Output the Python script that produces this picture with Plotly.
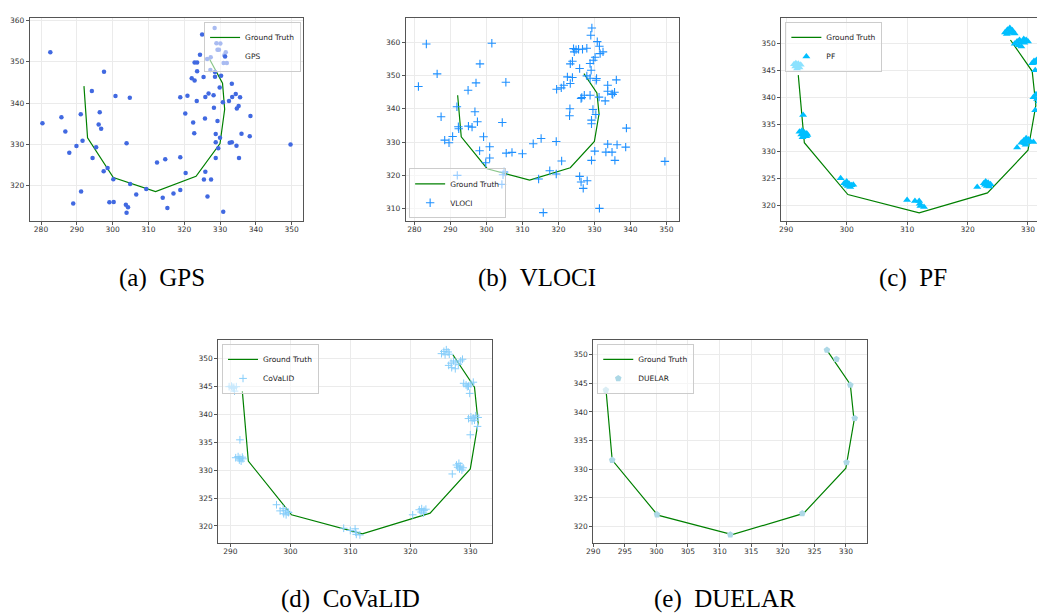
import plotly.graph_objects as go

# ---------------- data ----------------
gt_x = [292.0, 293.0, 300.2, 312.0, 323.3, 330.0, 331.3, 330.7, 327.1]
gt_y = [344.1, 331.6, 322.0, 318.6, 322.3, 330.2, 338.5, 344.8, 350.6]

gps_x = [282.6, 297.6, 280.4, 285.7, 286.8, 287.9, 289.0, 291.2, 289.9, 291.1, 291.6, 294.2, 296.4,
         296.1, 296.8, 294.4, 295.4, 297.5, 298.6, 299.1, 300.3, 300.2, 300.8, 304.8, 303.9, 304.9,
         303.7, 304.3, 303.9, 306.6, 309.4, 312.4, 314.7, 314.0, 315.3, 317.0, 318.9, 318.9, 320.4,
         318.9, 320.9, 320.3, 322.5, 322.8, 323.5, 322.1, 322.9, 322.9, 323.6, 323.6, 324.4, 325.0,
         325.4, 325.9, 326.8, 325.8, 325.9, 325.5, 327.5, 326.5, 326.4, 327.4, 327.3, 328.5, 329.0,
         330.1, 329.3, 329.7, 331.2, 331.6, 331.0, 331.9, 328.6, 328.6, 330.3, 329.9, 328.2, 330.8,
         332.5, 333.3, 333.4, 334.4, 335.6, 335.2, 334.7, 328.3, 329.3, 328.8, 330.0, 328.8, 329.5,
         328.8, 332.7, 333.3, 334.6, 335.3, 336.0, 338.5, 338.3, 330.9, 349.7]
gps_y = [352.3, 347.6, 335.1, 336.6, 333.1, 328.0, 315.7, 318.6, 329.6, 337.3, 330.9, 342.9, 337.8,
         334.8, 333.8, 326.7, 329.3, 323.5, 324.3, 316.0, 316.1, 321.6, 341.7, 341.3, 330.3, 320.4,
         315.4, 314.8, 313.5, 317.9, 319.2, 325.6, 326.4, 317.1, 314.6, 318.1, 326.9, 319.0, 323.1,
         341.4, 341.8, 337.5, 335.3, 332.7, 340.5, 346.0, 345.5, 349.8, 349.8, 347.7, 351.7, 356.6,
         346.3, 341.5, 342.3, 336.3, 323.4, 321.5, 321.5, 317.4, 350.7, 351.1, 348.0, 358.2, 354.5,
         354.4, 352.9, 352.9, 351.6, 352.3, 349.7, 349.7, 347.5, 346.4, 346.6, 343.8, 341.9, 340.2,
         340.5, 344.7, 341.5, 342.2, 341.4, 339.3, 338.7, 338.9, 335.7, 332.5, 331.6, 330.5, 329.1,
         326.7, 330.4, 330.5, 329.7, 326.7, 332.6, 336.9, 332.0, 313.7, 330.0]

vloci_x = [281.1, 283.3, 286.3, 287.4, 288.4, 289.6, 290.6, 291.8, 292.2, 292.3, 291.9, 294.9, 295.0,
           296.0, 296.8, 297.1, 297.5, 298.2, 298.1, 299.2, 299.8, 300.9, 300.9, 301.5, 304.4, 304.3,
           304.9, 304.6, 305.4, 305.5, 307.1, 310.0, 313.0, 314.5, 315.2, 315.8, 317.6, 319.4, 319.4,
           319.5, 320.8, 320.9, 321.5, 322.5, 323.3, 323.2, 323.1, 323.3, 323.9, 323.9, 324.2, 324.4,
           324.9, 325.6, 326.7, 327.9, 325.9, 325.9, 326.3, 326.9, 328.0, 326.3, 326.5, 327.2, 328.8,
           327.9, 328.8, 329.1, 328.8, 329.3, 329.0, 329.7, 330.2, 330.8, 331.4, 331.6, 332.4, 330.6,
           330.5, 331.3, 329.6, 330.4, 329.2, 329.2, 333.0, 333.7, 333.7, 334.9, 335.1, 335.6, 336.1,
           330.1, 329.2, 333.7, 333.2, 334.9, 335.7, 336.3, 338.7, 338.9, 331.4, 349.6]
vloci_y = [346.7, 359.5, 350.5, 337.6, 330.6, 329.8, 331.7, 340.6, 334.6, 334.0, 320.0, 345.6, 334.8,
           334.5, 339.1, 347.8, 336.1, 353.5, 327.4, 331.6, 323.8, 328.6, 325.2, 359.7, 335.9, 317.3,
           321.0, 320.2, 348.0, 326.7, 326.9, 326.5, 329.5, 318.9, 331.1, 308.8, 321.4, 320.4, 330.2,
           345.9, 346.3, 324.3, 347.1, 349.6, 347.6, 340.0, 337.9, 353.5, 349.4, 354.3, 358.1, 357.1,
           357.8, 357.9, 357.9, 358.2, 352.1, 319.7, 318.0, 316.1, 318.4, 343.1, 343.4, 344.1, 344.1,
           349.9, 353.6, 351.6, 349.2, 364.3, 362.1, 354.6, 355.5, 360.2, 358.8, 356.6, 357.1, 349.1,
           348.6, 343.5, 339.8, 338.3, 336.6, 335.5, 342.4, 347.1, 345.3, 344.5, 344.3, 345.0, 348.7,
           327.3, 324.5, 329.4, 327.0, 327.0, 324.5, 329.2, 328.5, 334.2, 310.1, 324.2]

pf_x = [291.3, 291.6, 292.0, 292.4, 291.5, 291.9, 292.2, 291.8,
        292.8,
        292.2, 292.6, 293.0, 293.4, 292.5, 292.9, 293.3, 292.7, 293.5,
        299.0,
        299.6, 300.0, 300.4, 300.8, 301.1, 300.2, 300.6, 299.9,
        310.0, 311.3, 312.0, 312.1, 312.2, 312.8,
        321.6,
        322.7, 323.0, 323.4, 323.8, 323.2, 323.6, 322.9,
        328.2,
        328.9, 329.3, 329.7, 330.1, 329.5, 329.9, 330.3, 329.6, 330.9,
        331.2,
        330.9, 331.3, 331.7, 332.1, 331.5, 331.9, 332.4, 332.8, 331.8, 332.5,
        331.2,
        330.7, 331.0, 331.4, 331.8, 331.2, 332.1,
        327.8, 328.2, 328.6, 329.0, 328.4, 328.9, 329.4, 329.7, 329.3, 330.0,
        326.2, 326.6, 327.0, 327.4, 326.8, 327.3, 327.8, 326.5]
pf_y = [346.1, 346.3, 346.2, 346.0, 345.7, 345.8, 345.5, 345.3,
        336.7,
        333.6, 333.8, 333.5, 333.3, 333.1, 332.9, 332.8, 332.6, 333.0,
        325.0,
        324.1, 324.4, 324.0, 323.7, 323.8, 323.6, 323.4, 323.8,
        321.0, 320.8, 320.8, 320.3, 319.9, 319.7,
        323.4,
        324.1, 324.4, 324.2, 323.9, 323.6, 323.5, 323.8,
        330.7,
        331.6, 332.0, 332.4, 332.2, 331.5, 331.7, 331.9, 331.2, 331.7,
        337.6,
        340.0, 340.5, 340.8, 340.6, 339.7, 340.2, 340.9, 340.4, 339.2, 339.4,
        345.0,
        346.3, 346.7, 346.9, 346.6, 346.4, 347.2,
        349.9, 350.3, 350.6, 350.2, 349.6, 349.4, 350.1, 350.6, 350.8, 350.3,
        352.0, 352.5, 352.8, 352.4, 351.9, 352.0, 351.8, 351.7]

covalid_x = [289.8, 290.2, 290.6, 291.0, 290.5, 290.7, 290.3,
             291.6,
             290.9, 291.3, 291.6, 292.0, 291.5, 291.8, 292.1,
             297.7,
             298.3, 298.8, 299.2, 299.6, 298.9, 299.3, 299.7,
             308.9, 310.0, 310.8, 310.9, 311.0, 311.6,
             320.4,
             321.5, 321.9, 322.3, 322.6, 321.8, 322.2,
             327.0,
             327.7, 328.1, 328.4, 328.8, 328.2, 328.6, 327.9,
             330.0,
             329.7, 330.1, 330.5, 330.9, 331.3, 330.3, 330.7,
             331.2, 329.9,
             328.9, 329.3, 329.7, 330.1, 330.5, 329.5,
             326.4, 326.8, 327.2, 327.6, 328.0, 328.4, 326.9, 327.5, 328.7,
             325.2, 325.6, 326.0, 326.3, 325.8, 326.5]
covalid_y = [344.9, 345.0, 344.8, 344.9, 344.6, 344.1, 344.8,
             335.4,
             332.2, 332.4, 332.1, 332.3, 331.8, 331.6, 332.0,
             323.8,
             322.7, 323.1, 322.8, 322.5, 322.2, 322.0, 322.4,
             319.6, 319.2, 319.5, 318.9, 318.5, 318.4,
             322.0,
             322.9, 323.1, 322.8, 323.0, 322.5, 322.3,
             329.3,
             330.9, 331.2, 330.7, 330.4, 330.2, 330.0, 330.5,
             336.3,
             339.2, 339.5, 339.3, 339.7, 339.4, 338.8, 338.9,
             337.8, 343.7,
             345.5, 345.2, 345.0, 345.4, 345.7, 344.9,
             348.7, 349.1, 349.5, 349.3, 348.9, 349.5, 348.3, 348.1, 349.8,
             350.8, 351.2, 351.5, 351.1, 350.6, 350.7]

duelar_x = [292.0, 293.0, 300.1, 311.7, 323.1, 330.1, 331.4, 330.7, 328.5, 327.0]
duelar_y = [343.8, 331.6, 322.1, 318.6, 322.3, 331.2, 338.9, 344.7, 349.2, 350.8]

captions = ["(a)\u00a0\u00a0GPS", "(b)\u00a0\u00a0VLOCI", "(c)\u00a0\u00a0PF",
            "(d)\u00a0\u00a0CoVaLID", "(e)\u00a0\u00a0DUELAR"]

# ---------------- figure ----------------
W, H = 1045, 613
OFF_X, SCALE_X = 15.1, 0.9927   # how page pixels map onto the screenshot
OFF_Y = 8

fig = go.Figure()


def px(xp):
    return ((xp - OFF_X) / SCALE_X) / W


def py(yp):
    return 1 - (yp - OFF_Y) / H


panels = [
    dict(name="GPS", x=gps_x, y=gps_y,
         marker=dict(symbol="circle", size=4.5, color="#4169E1"),
         xd=(30, 303), yd=(16, 220), xr=[276.9, 353.2], yr=[311.4, 360.6],
         xt=list(range(280, 351, 10)), yt=list(range(320, 361, 10)),
         leg=dict(x=px(301), y=py(20), xanchor="right", yanchor="top")),
    dict(name="VLOCI", x=vloci_x, y=vloci_y,
         marker=dict(symbol="cross-thin", size=6, color="#1E90FF",
                     line=dict(color="#1E90FF", width=1.1)),
         xd=(405.7, 679), yd=(16, 220), xr=[277.6, 353.6], yr=[306.2, 367.3],
         xt=list(range(280, 351, 10)), yt=list(range(310, 361, 10)),
         leg=dict(x=px(409), y=py(217), xanchor="left", yanchor="bottom")),
    dict(name="PF", x=pf_x, y=pf_y,
         marker=dict(symbol="triangle-up", size=7, color="#00BFFF"),
         xd=(781, 1050), yd=(16, 220), xr=[289.2, 333.73], yr=[317.05, 354.67],
         xt=list(range(290, 331, 10)), yt=list(range(320, 351, 5)),
         leg=dict(x=px(785), y=py(20), xanchor="left", yanchor="top")),
    dict(name="CoVaLID", x=covalid_x, y=covalid_y,
         marker=dict(symbol="cross-thin", size=5.5, color="#87CEFA",
                     line=dict(color="#87CEFA", width=1.0)),
         xd=(218.3, 491.7), yd=(339.3, 542.7), xr=[288.0, 333.6], yr=[316.97, 353.2],
         xt=list(range(290, 331, 10)), yt=list(range(320, 351, 5)),
         leg=dict(x=px(222), y=py(343), xanchor="left", yanchor="top")),
    dict(name="DUELAR", x=duelar_x, y=duelar_y,
         marker=dict(symbol="pentagon", size=7, color="#ADD8E6"),
         xd=(593, 866.3), yd=(339.3, 543), xr=[290.0, 333.3], yr=[317.1, 352.5],
         xt=list(range(290, 331, 5)), yt=list(range(320, 351, 5)),
         leg=dict(x=px(597), y=py(343), xanchor="left", yanchor="top")),
]

cap_pos = [(162, 277), (537, 277), (913, 277), (350, 599), (725, 599)]

layout = dict(width=W, height=H, margin=dict(l=0, r=0, t=0, b=0),
              paper_bgcolor="white", plot_bgcolor="white", showlegend=True,
              annotations=[])

axis_common = dict(showline=True, linecolor="#555555", linewidth=1, mirror=True,
                   ticks="outside", ticklen=3, tickwidth=0.8, tickcolor="#555555",
                   showgrid=True, gridcolor="#ebebeb", gridwidth=0.8, zeroline=False,
                   tickfont=dict(family="DejaVu Sans", size=7.5, color="#333333"),
                   autorange=False)

for i, p in enumerate(panels, start=1):
    sx = "" if i == 1 else str(i)
    legname = "legend" if i == 1 else "legend" + str(i)
    fig.add_trace(go.Scatter(x=gt_x, y=gt_y, mode="lines", name="Ground Truth",
                             line=dict(color="green", width=1.2),
                             xaxis="x" + sx, yaxis="y" + sx, legend=legname))
    fig.add_trace(go.Scatter(x=p["x"], y=p["y"], mode="markers", name=p["name"],
                             marker=p["marker"],
                             xaxis="x" + sx, yaxis="y" + sx, legend=legname))
    xa = dict(axis_common, domain=[px(p["xd"][0]), min(1.0, px(p["xd"][1]))],
              range=p["xr"], tickvals=p["xt"], anchor="y" + sx,
              ticklabelstandoff=-2)
    ya = dict(axis_common, domain=[py(p["yd"][1]), py(p["yd"][0])],
              range=p["yr"], tickvals=p["yt"], anchor="x" + sx)
    if p["name"] == "PF":
        ya["mirror"] = False
    layout["xaxis" + sx] = xa
    layout["yaxis" + sx] = ya
    layout[legname] = dict(p["leg"], bgcolor="rgba(255,255,255,0.55)",
                           bordercolor="#cccccc", borderwidth=1,
                           font=dict(family="DejaVu Sans", size=7.5, color="#222222"),
                           itemwidth=30, tracegroupgap=0)
    cx, cy = cap_pos[i - 1]
    layout["annotations"].append(dict(text=captions[i - 1], x=px(cx), y=py(cy),
                                      xref="paper", yref="paper", showarrow=False,
                                      xanchor="center", yanchor="middle",
                                      font=dict(family="Liberation Serif", size=25,
                                                color="black")))

fig.update_layout(**layout)
fig.write_html("out.html")
